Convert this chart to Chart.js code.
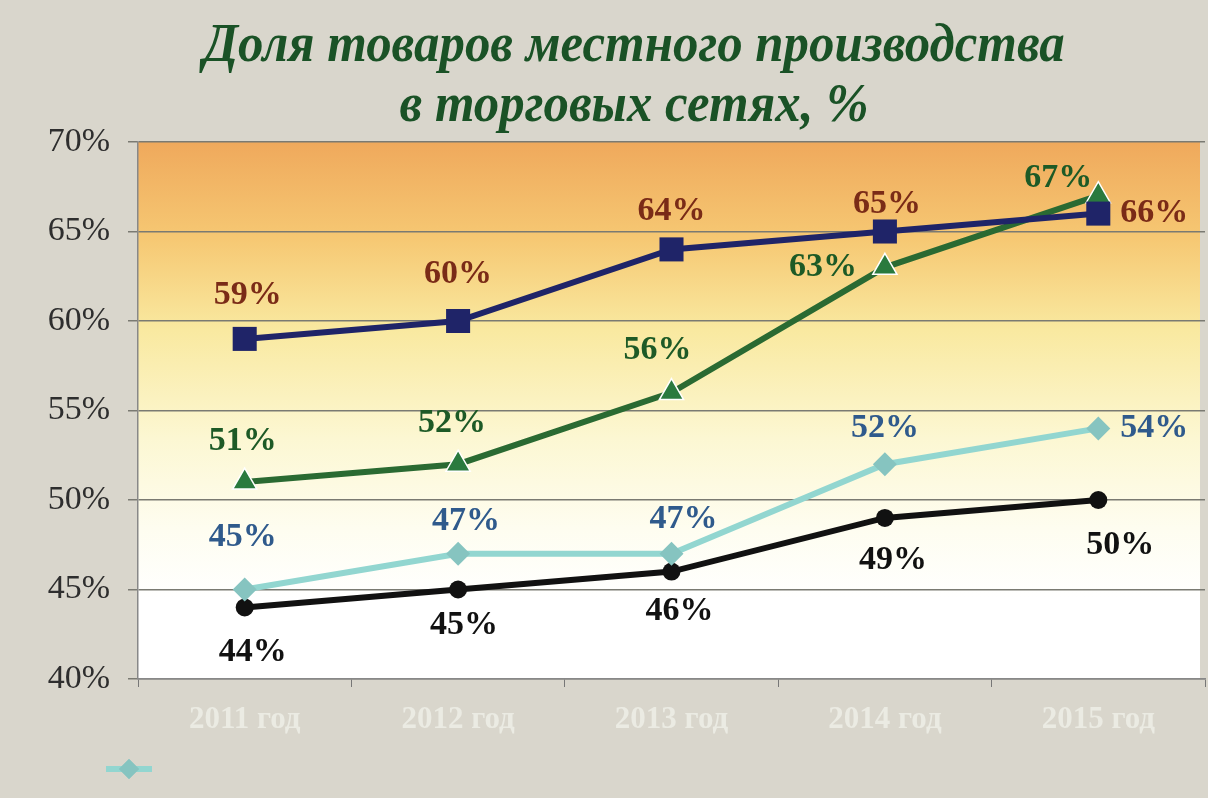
<!DOCTYPE html>
<html>
<head>
<meta charset="utf-8">
<script src="https://cdn.jsdelivr.net/npm/chart.js@4.4.1/dist/chart.umd.min.js"></script>
<style>
  html, body { margin: 0; padding: 0; background: #d9d6cc; }
  #wrap { width: 1208px; height: 798px; }
</style>
</head>
<body>
<div id="wrap"><canvas id="chart"></canvas></div>
<script>
const years = ['2011 год', '2012 год', '2013 год', '2014 год', '2015 год'];
const navyValues = [59, 60, 64, 65, 66];
const greenValues = [51, 52, 56, 63, 67];
const cyanValues = [45, 47, 47, 52, 54];
const blackValues = [44, 45, 46, 49, 50];
const yTicks = [40, 45, 50, 55, 60, 65, 70];
const titleLines = ['Доля товаров местного производства', 'в торговых сетях, %'];

// label offsets (px) relative to each point
const labelOffsets = [
  [[3, -44], [0, -47], [0, -38], [2, -27], [56, 0]],
  [[-2, -41], [-6, -41], [-14, -42], [-62, 0], [-40, -17]],
  [[-2, -52], [8, -32], [12, -34], [0, -36], [56, 0]],
  [[8, 45], [6, 36], [8, 40], [8, 42], [22, 45]]
];
const labelColors = ['#7a2b17', '#1d5a26', '#2f5a8c', '#111111'];

// gradient behind plot area
const plotBackground = {
  id: 'plotBackground',
  beforeDraw(chart) {
    const { ctx, chartArea: a } = chart;
    const g = ctx.createLinearGradient(0, a.top, 0, a.bottom);
    g.addColorStop(0, '#efa95c');
    g.addColorStop(0.18, '#f6c873');
    g.addColorStop(0.35, '#f9e9a0');
    g.addColorStop(0.55, '#fcf7d2');
    g.addColorStop(0.72, '#fefdf0');
    g.addColorStop(0.85, '#ffffff');
    g.addColorStop(1, '#ffffff');
    ctx.save();
    ctx.fillStyle = g;
    ctx.fillRect(a.left, a.top, a.right - a.left - 5, a.bottom - a.top);
    ctx.restore();
  }
};

// slightly condensed italic title, like the original slide
const slideTitle = {
  id: 'slideTitle',
  afterDraw(chart) {
    const ctx = chart.ctx;
    ctx.save();
    ctx.fillStyle = '#1a5226';
    ctx.font = 'italic bold 53px "Liberation Serif"';
    ctx.textAlign = 'center';
    ctx.textBaseline = 'alphabetic';
    titleLines.forEach((line, i) => {
      ctx.save();
      ctx.translate(634, 61 + i * 60);
      ctx.scale(0.96, 1.05);
      ctx.fillText(line, 0, 0);
      ctx.restore();
    });
    ctx.restore();
  }
};

const valueLabels = {
  id: 'valueLabels',
  afterDatasetsDraw(chart) {
    const ctx = chart.ctx;
    ctx.save();
    ctx.font = 'bold 34px "Liberation Serif"';
    ctx.textAlign = 'center';
    ctx.textBaseline = 'middle';
    chart.data.datasets.forEach((ds, i) => {
      const meta = chart.getDatasetMeta(i);
      meta.data.forEach((pt, j) => {
        const [dx, dy] = labelOffsets[i][j];
        ctx.fillStyle = labelColors[i];
        ctx.fillText(ds.data[j] + '%', pt.x + dx, pt.y + dy);
      });
    });
    ctx.restore();
  }
};

// the slide only shows the cyan series' legend sample, with no text
const legendSample = {
  id: 'legendSample',
  afterDraw(chart) {
    const ds = chart.data.datasets[2];
    const ctx = chart.ctx;
    ctx.save();
    ctx.strokeStyle = ds.borderColor;
    ctx.lineWidth = 6;
    ctx.beginPath();
    ctx.moveTo(106, 769);
    ctx.lineTo(152, 769);
    ctx.stroke();
    ctx.fillStyle = ds.pointBackgroundColor;
    Chart.helpers.drawPoint(ctx, { pointStyle: 'rectRot', radius: 10, borderWidth: 0 }, 129, 769);
    ctx.fill();
    ctx.restore();
  }
};

new Chart(document.getElementById('chart'), {
  type: 'line',
  data: {
    labels: years,
    datasets: [
      {
        data: navyValues,
        borderColor: '#1f2468',
        borderWidth: 6,
        pointStyle: 'rect',
        pointRadius: 17,
        pointBackgroundColor: '#1f2468',
        pointBorderWidth: 0
      },
      {
        data: greenValues,
        borderColor: '#2a6a32',
        borderWidth: 6,
        pointStyle: 'triangle',
        pointRadius: 14,
        pointBackgroundColor: '#2a7a3e',
        pointBorderColor: '#ffffff',
        pointBorderWidth: 1.5
      },
      {
        data: cyanValues,
        borderColor: '#92d6d0',
        borderWidth: 6,
        pointStyle: 'rectRot',
        pointRadius: 12,
        pointBackgroundColor: '#86c4c0',
        pointBorderWidth: 0
      },
      {
        data: blackValues,
        borderColor: '#111111',
        borderWidth: 6,
        pointStyle: 'circle',
        pointRadius: 9,
        pointBackgroundColor: '#111111',
        pointBorderWidth: 0
      }
    ]
  },
  options: {
    responsive: true,
    maintainAspectRatio: false,
    animation: false,
    layout: {
      autoPadding: false,
      padding: { left: 0, right: 3, top: 142, bottom: 59 }
    },
    scales: {
      x: {
        offset: true,
        afterFit(axis) {
          axis.height = 60;
          axis.paddingLeft = 0;
          axis.paddingRight = 0;
        },
        grid: {
          display: true,
          drawOnChartArea: false,
          offset: true,
          tickLength: 8,
          color: '#777777'
        },
        border: { color: '#888888', width: 1.5 },
        ticks: {
          color: '#ebebe3',
          padding: 14,
          font: { family: 'Liberation Serif', size: 31, weight: 'bold' }
        }
      },
      y: {
        min: 40,
        max: 70,
        afterBuildTicks(axis) {
          axis.ticks = yTicks.map(v => ({ value: v }));
        },
        afterFit(axis) {
          axis.width = 138;
          axis.paddingTop = 0;
          axis.paddingBottom = 0;
        },
        grid: {
          color: '#7a7a72',
          lineWidth: 1.5,
          tickLength: 10
        },
        border: { color: '#888888', width: 1.5 },
        ticks: {
          color: '#2e2e2e',
          padding: 18,
          font: { family: 'Liberation Serif', size: 34 },
          callback: v => v + '%'
        }
      }
    },
    plugins: {
      title: { display: false },
      legend: { display: false },
      tooltip: { enabled: false }
    }
  },
  plugins: [plotBackground, valueLabels, slideTitle, legendSample]
});
</script>
</body>
</html>
